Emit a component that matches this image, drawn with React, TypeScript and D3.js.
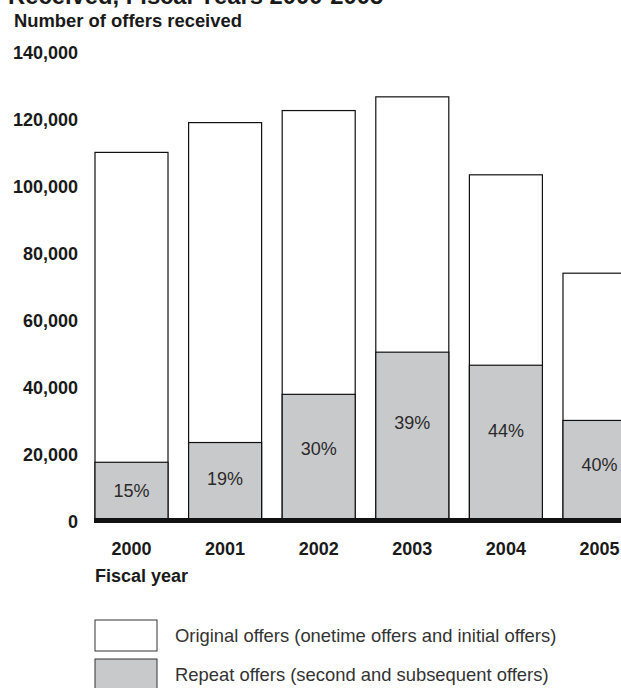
import React, { useRef, useEffect } from 'react';
import * as d3 from 'd3';

const years = ['2000', '2001', '2002', '2003', '2004', '2005'];
const totalOffers = [110000, 118900, 122500, 126600, 103300, 73900];
const repeatOffers = [17400, 23300, 37700, 50300, 46400, 29900];
const repeatShare = ['15%', '19%', '30%', '39%', '44%', '40%'];
const yTicks = [0, 20000, 40000, 60000, 80000, 100000, 120000, 140000];
const legendItems = [
  { label: 'Original offers (onetime offers and initial offers)', fill: '#ffffff' },
  { label: 'Repeat offers (second and subsequent offers)', fill: '#c8c9cb' }
];

const W = 621;
const H = 688;
const FONT = '"Liberation Sans", Arial, Helvetica, sans-serif';
const GRAY = '#c8c9cb';
const TEXT = '#1a1a1a';

function drawChart(svgEle: SVGSVGElement) {
  const svg = d3.select(svgEle);
  svg.selectAll('*').remove();

  const x = d3
    .scaleBand()
    .domain(years)
    .range([95, 636])
    .paddingInner(0.22)
    .paddingOuter(0);
  const y = d3.scaleLinear().domain([0, 140000]).range([520.5, 52]);

  // 标题（被上边缘裁切，同原图）
  svg
    .append('text')
    .attr('x', 8)
    .attr('y', 4)
    .attr('font-family', FONT)
    .attr('font-weight', 'bold')
    .attr('font-size', 23.8)
    .attr('fill', TEXT)
    .text('Received, Fiscal Years 2000-2005');

  svg
    .append('text')
    .attr('x', 14)
    .attr('y', 27)
    .attr('font-family', FONT)
    .attr('font-weight', 'bold')
    .attr('font-size', 18.4)
    .attr('fill', TEXT)
    .text('Number of offers received');

  // y 轴刻度文字
  svg
    .selectAll()
    .data(yTicks)
    .enter()
    .append('text')
    .attr('x', 78)
    .attr('y', (d) => y(d) + 7)
    .attr('text-anchor', 'end')
    .attr('font-family', FONT)
    .attr('font-weight', 'bold')
    .attr('font-size', 18)
    .attr('fill', TEXT)
    .text((d) => d3.format(',')(d));

  // 原始 offers（整柱）
  svg
    .selectAll()
    .data(years)
    .enter()
    .append('rect')
    .attr('x', (d) => x(d) as number)
    .attr('y', (d, i) => y(totalOffers[i]))
    .attr('width', x.bandwidth())
    .attr('height', (d, i) => y(0) - y(totalOffers[i]))
    .attr('fill', '#fff')
    .attr('stroke', '#111')
    .attr('stroke-width', 1.2);

  // repeat offers
  svg
    .selectAll()
    .data(years)
    .enter()
    .append('rect')
    .attr('x', (d) => x(d) as number)
    .attr('y', (d, i) => y(repeatOffers[i]))
    .attr('width', x.bandwidth())
    .attr('height', (d, i) => y(0) - y(repeatOffers[i]))
    .attr('fill', GRAY)
    .attr('stroke', '#111')
    .attr('stroke-width', 1.2);

  // 百分比：放在灰色柱中部略偏上
  svg
    .selectAll()
    .data(years)
    .enter()
    .append('text')
    .attr('x', (d) => (x(d) as number) + x.bandwidth() / 2)
    .attr('y', (d, i) => {
      const h = y(0) - y(repeatOffers[i]);
      return y(0) - h / 2 + 6 - 0.12 * (h - 58);
    })
    .attr('text-anchor', 'middle')
    .attr('font-family', FONT)
    .attr('font-size', 18)
    .attr('fill', '#2a2a2a')
    .text((d, i) => repeatShare[i]);

  // x 轴粗线
  svg
    .append('line')
    .attr('x1', 94)
    .attr('x2', W)
    .attr('y1', y(0))
    .attr('y2', y(0))
    .attr('stroke', '#111')
    .attr('stroke-width', 5);

  // 年份
  svg
    .selectAll()
    .data(years)
    .enter()
    .append('text')
    .attr('x', (d) => (x(d) as number) + x.bandwidth() / 2)
    .attr('y', 555)
    .attr('text-anchor', 'middle')
    .attr('font-family', FONT)
    .attr('font-weight', 'bold')
    .attr('font-size', 18)
    .attr('fill', TEXT)
    .text((d) => d);

  svg
    .append('text')
    .attr('x', 95)
    .attr('y', 582)
    .attr('font-family', FONT)
    .attr('font-weight', 'bold')
    .attr('font-size', 18)
    .attr('fill', TEXT)
    .text('Fiscal year');

  // 图例
  const legend = svg
    .selectAll()
    .data(legendItems)
    .enter()
    .append('g')
    .attr('transform', (d, i) => `translate(95, ${620 + i * 39})`);
  legend
    .append('rect')
    .attr('width', 62)
    .attr('height', 31)
    .attr('fill', (d) => d.fill)
    .attr('stroke', '#333')
    .attr('stroke-width', 1);
  legend
    .append('text')
    .attr('x', 80)
    .attr('y', 22)
    .attr('font-family', FONT)
    .attr('font-size', 18.4)
    .attr('fill', '#333')
    .text((d) => d.label);
}

export default function App(): JSX.Element {
  const svgRef = useRef<SVGSVGElement>(null);

  useEffect(() => {
    const svgEle = svgRef.current;
    if (svgEle == null) {
      return;
    }
    drawChart(svgEle);
  }, []);

  return (
    <svg
      ref={svgRef}
      width={W}
      height={H}
      style={{ position: 'absolute', left: 0, top: 0, background: '#fff' }}
    />
  );
}
